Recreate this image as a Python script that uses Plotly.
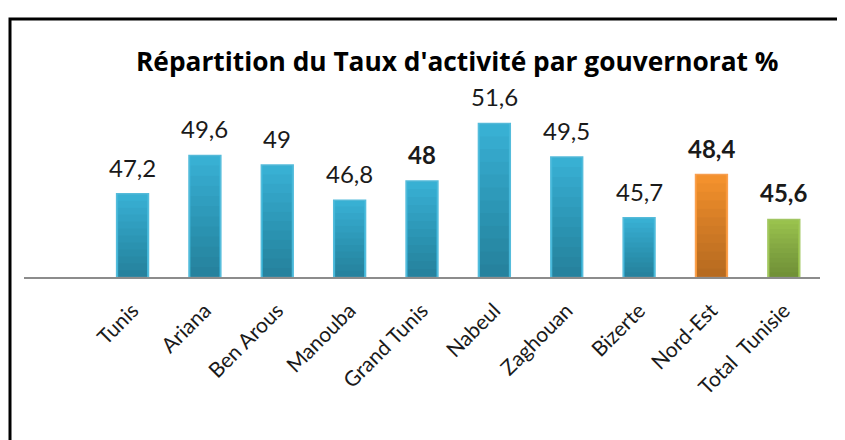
import plotly.graph_objects as go

categories = ["Tunis", "Ariana", "Ben Arous", "Manouba", "Grand Tunis", "Nabeul",
              "Zaghouan", "Bizerte", "Nord-Est", "Total  Tunisie"]
values = [47.2, 49.6, 49.0, 46.8, 48.0, 51.6, 49.5, 45.7, 48.4, 45.6]
bold_labels = [False, False, False, False, True, False, False, False, True, True]
bar_colors = ["#3AB5D9"] * 8 + ["#F9952F", "#9DC74F"]
line_colors = ["#55BCDB"] * 8 + ["#F9A050", "#A3C864"]
title_text = "Répartition du Taux d'activité par gouvernorat %"

xs = list(range(len(categories)))
BASE = 42

def fmt(v):
    return ("%g" % v).replace(".", ",")

# page has an 8px body margin; layout below is in figure pixels
L, R, T, B = 16, 33, 52, 171
W, H = 845, 440
PW, PH = W - L - R, H - T - B
AXIS_Y = H - B

fig = go.Figure()
fig.add_trace(go.Bar(
    x=xs, y=[v - BASE for v in values], base=BASE,
    width=0.44,
    marker=dict(color=bar_colors, line=dict(color=line_colors, width=1.5)),
    hoverinfo="skip",
))

# vertical shading (darker towards the bottom) to mimic the gradient fill
N_SHADE = 12
for k in range(1, N_SHADE + 1):
    frac = k / N_SHADE
    fig.add_trace(go.Bar(
        x=xs, y=[(v - BASE) * frac for v in values], base=BASE,
        width=0.40,
        marker=dict(color="rgba(0,0,0,0.022)", line=dict(width=0)),
        hoverinfo="skip",
    ))

for x, v, b in zip(xs, values, bold_labels):
    t = fmt(v)
    fig.add_annotation(
        x=x, y=v, xref="x", yref="y", text=("<b>%s</b>" % t) if b else t,
        showarrow=False, yanchor="bottom", yshift=10,
        font=dict(family="Lato", size=24, color="#1a1a1a"),
    )

fig.add_annotation(
    x=(449.5 - L) / PW, y=(AXIS_Y - 53) / PH, xref="paper", yref="paper",
    text="<b>%s</b>" % title_text, showarrow=False, xanchor="center", yanchor="middle",
    font=dict(family="Open Sans", size=26.3, color="#000000"),
)

# outer frame
fig.add_shape(type="rect", xref="paper", yref="paper",
              x0=(2 - L) / PW, x1=1.2, y0=-1.0, y1=(AXIS_Y - 11) / PH,
              line=dict(color="#000000", width=3), fillcolor="rgba(0,0,0,0)", layer="below")

fig.update_layout(
    width=W, height=H,
    margin=dict(l=L, r=R, t=T, b=B),
    paper_bgcolor="white", plot_bgcolor="white",
    showlegend=False, barmode="overlay",
    xaxis=dict(range=[-1.5, 9.5], tickvals=xs, ticktext=categories, tickangle=-45,
               showgrid=False, zeroline=False, showline=True, linecolor="#8C8C8C", linewidth=2,
               ticks="", ticklabelstandoff=11,
               tickfont=dict(family="Lato", size=21, color="#1a1a1a")),
    yaxis=dict(range=[BASE, BASE + PH / 16], visible=False, showgrid=False, zeroline=False),
)
fig.write_html("out.html")
